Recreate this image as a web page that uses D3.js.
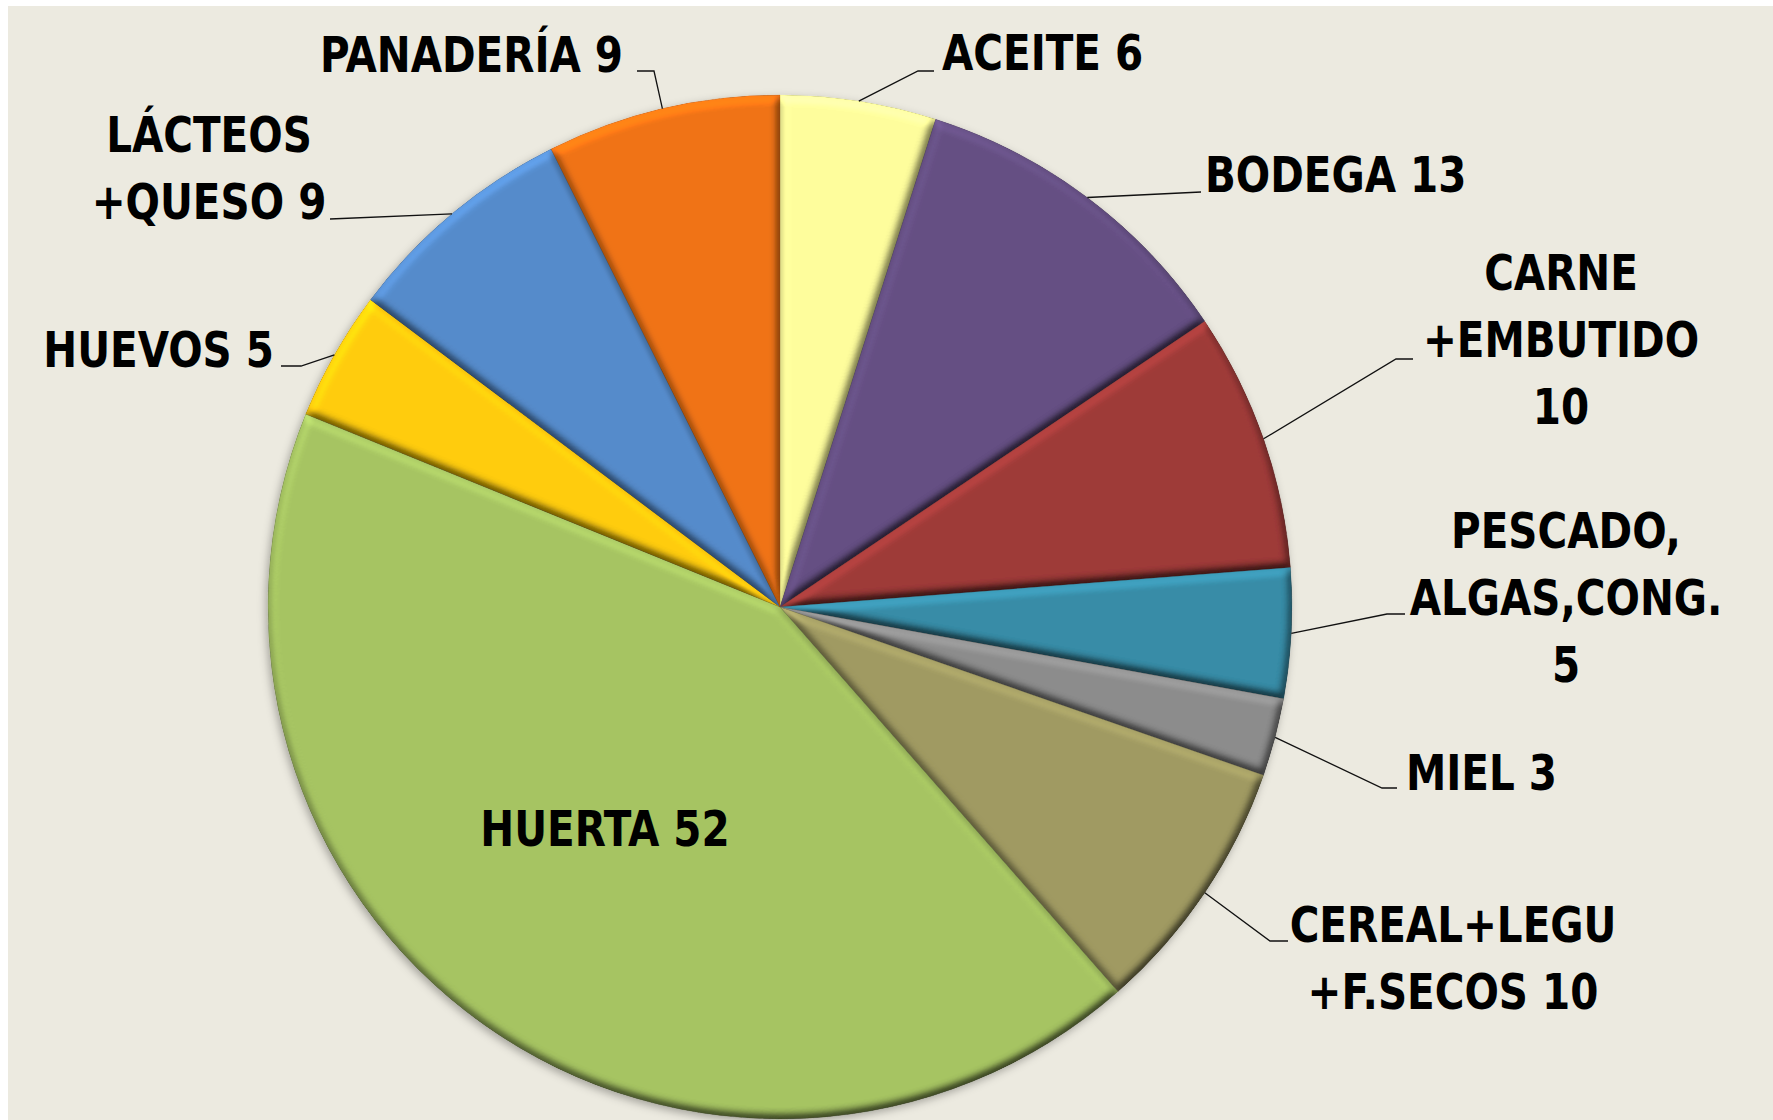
<!DOCTYPE html>
<html>
<head>
<meta charset="utf-8">
<script src="https://cdn.jsdelivr.net/npm/d3@7"></script>
<style>
  body { margin: 0; background: #fff; }
  text { font-family: "DejaVu Sans Condensed", "DejaVu Sans", sans-serif; font-weight: bold; }
</style>
</head>
<body>
<div id="chart"></div>
<script>
let width = 1773,
    height = 1120,
    cx = 780,
    cy = 607,
    radius = 512;

// data (clockwise from 12 o'clock)
const categories = ["ACEITE", "BODEGA", "CARNE", "PESCADO", "MIEL", "CEREAL", "HUERTA", "HUEVOS", "LÁCTEOS", "PANADERÍA"];
const values = [6, 13, 10, 5, 3, 10, 52, 5, 9, 9];
const labelLines = [
  ["ACEITE 6"],
  ["BODEGA 13"],
  ["CARNE", "+EMBUTIDO", "10"],
  ["PESCADO,", "ALGAS,CONG.", "5"],
  ["MIEL 3"],
  ["CEREAL+LEGU", "+F.SECOS 10"],
  ["HUERTA 52"],
  ["HUEVOS 5"],
  ["LÁCTEOS", "+QUESO 9"],
  ["PANADERÍA 9"]
];
const colors = ["#FEFD9C", "#654F83", "#9E3A38", "#378CA7", "#8C8C8C", "#A09A62", "#A6C462", "#FFCC0A", "#558BCB", "#F07315"];

// where each label sits: text position, anchor, leader elbow and end of its short horizontal
const layout = {
  "ACEITE":    { x: 942,  y: 70,  anchor: "start",  ex: 918,  ey: 71,  hx: 934 },
  "BODEGA":    { x: 1205, y: 192, anchor: "start",  ex: 1201, ey: 192, hx: 1201 },
  "CARNE":     { x: 1561, y: 290, anchor: "middle", ex: 1396, ey: 359, hx: 1413 },
  "PESCADO":   { x: 1566, y: 548, anchor: "middle", ex: 1387, ey: 614, hx: 1405 },
  "MIEL":      { x: 1406, y: 790, anchor: "start",  ex: 1382, ey: 788, hx: 1397 },
  "CEREAL":    { x: 1453, y: 942, anchor: "middle", ex: 1270, ey: 941, hx: 1288 },
  "HUERTA":    { x: 605,  y: 846, anchor: "middle" },
  "HUEVOS":    { x: 274,  y: 367, anchor: "end",    ex: 301,  ey: 366, hx: 281 },
  "LÁCTEOS":   { x: 209,  y: 152, anchor: "middle", ex: 330,  ey: 219, hx: 330 },
  "PANADERÍA": { x: 623,  y: 72,  anchor: "end",    ex: 654,  ey: 71,  hx: 637 }
};
const lineHeight = 67;

const data = categories.map((c, i) => ({ name: c, value: values[i], lines: labelLines[i], color: colors[i] }));

const svg = d3.select("#chart")
  .append("svg")
  .attr("width", width)
  .attr("height", height);

const defs = svg.append("defs");

// bevel on each slice, lit from the top
const bevel = defs.append("filter")
  .attr("id", "bevel")
  .attr("x", "-5%").attr("y", "-5%")
  .attr("width", "110%").attr("height", "110%")
  .attr("color-interpolation-filters", "sRGB");
bevel.append("feGaussianBlur").attr("in", "SourceAlpha").attr("stdDeviation", 5).attr("result", "blur");
bevel.append("feDiffuseLighting")
  .attr("in", "blur").attr("surfaceScale", 5).attr("diffuseConstant", 1)
  .attr("lighting-color", "#fff").attr("result", "light")
  .append("feDistantLight").attr("azimuth", 250).attr("elevation", 60);
bevel.append("feComposite")
  .attr("in", "SourceGraphic").attr("in2", "light")
  .attr("operator", "arithmetic").attr("k1", 1.155).attr("k2", 0).attr("k3", 0).attr("k4", 0)
  .attr("result", "lit");
bevel.append("feComposite").attr("in", "lit").attr("in2", "SourceAlpha").attr("operator", "in");

const shadow = defs.append("filter")
  .attr("id", "shadow")
  .attr("x", "-10%").attr("y", "-10%")
  .attr("width", "120%").attr("height", "120%");
shadow.append("feDropShadow")
  .attr("dx", -2).attr("dy", 3).attr("stdDeviation", 4)
  .attr("flood-color", "#000").attr("flood-opacity", 0.3);

svg.append("rect")
  .attr("x", 8).attr("y", 6)
  .attr("width", width - 8).attr("height", height - 6)
  .attr("fill", "#ECEAE0");

let pie = d3.pie()
  .sort(null)
  .value(d => d.value);

let arc = d3.arc()
  .innerRadius(0)
  .outerRadius(radius);

let arcs = pie(data);

const g = svg.append("g")
  .attr("transform", `translate(${cx},${cy})`);

g.append("g")
  .attr("filter", "url(#shadow)")
  .selectAll("path")
  .data(arcs)
  .join("path")
  .attr("d", arc)
  .attr("fill", d => d.data.color)
  .attr("stroke", d => d3.color(d.data.color).darker(0.4))
  .attr("stroke-width", 0.6)
  .attr("filter", "url(#bevel)");

// leader lines: from the rim at the slice's middle angle to the label
let rim = d3.arc().innerRadius(radius).outerRadius(radius);

for (let a of arcs) {
  let L = layout[a.data.name];
  if (L.ex === undefined) continue;
  let p = rim.centroid(a);
  let pts = [[p[0] + cx, p[1] + cy], [L.ex, L.ey], [L.hx, L.ey]];
  svg.append("path")
    .attr("d", d3.line()(pts))
    .attr("fill", "none")
    .attr("stroke", "#111")
    .attr("stroke-width", 1.3);
}

// labels, squeezed horizontally to look like the condensed original face
for (let a of arcs) {
  let L = layout[a.data.name];
  let t = svg.append("g")
    .attr("transform", `translate(${L.x},${L.y}) scale(0.9,1)`)
    .append("text")
    .attr("text-anchor", L.anchor)
    .attr("font-size", 50)
    .attr("fill", "#000");
  a.data.lines.forEach((s, i) => {
    t.append("tspan")
      .attr("x", 0)
      .attr("y", i * lineHeight)
      .text(s);
  });
}
</script>
</body>
</html>
